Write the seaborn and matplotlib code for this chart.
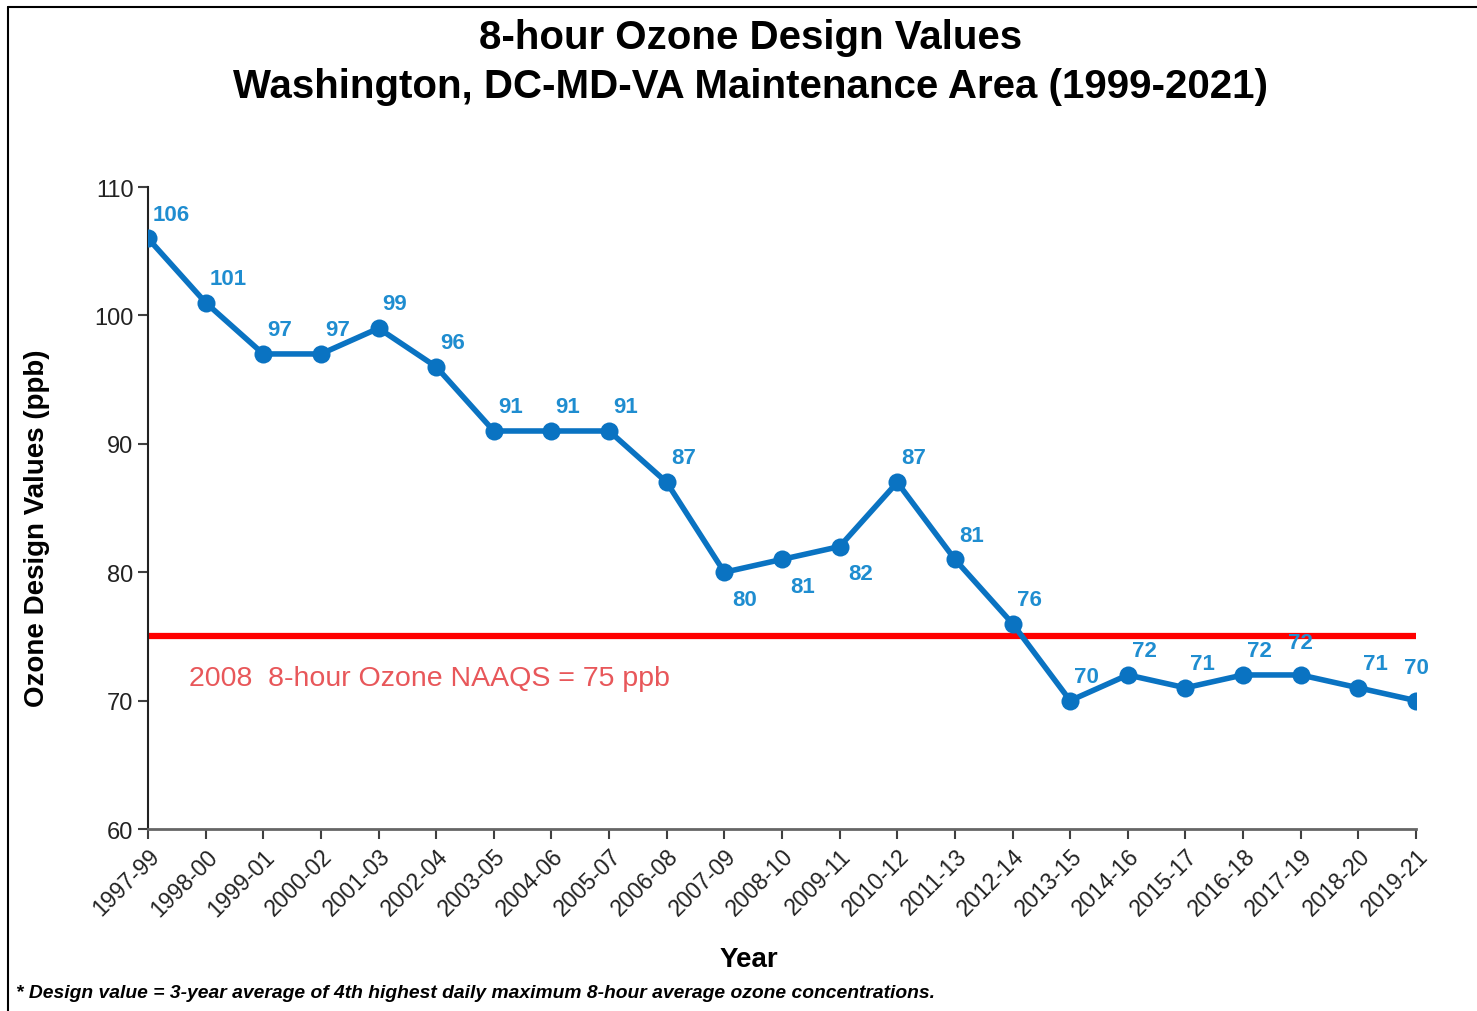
import matplotlib.pyplot as plt
import seaborn as sns
from matplotlib.lines import Line2D

years = ['1997-99', '1998-00', '1999-01', '2000-02', '2001-03', '2002-04', '2003-05',
         '2004-06', '2005-07', '2006-08', '2007-09', '2008-10', '2009-11', '2010-12',
         '2011-13', '2012-14', '2013-15', '2014-16', '2015-17', '2016-18', '2017-19',
         '2018-20', '2019-21']
design_values = [106, 101, 97, 97, 99, 96, 91, 91, 91, 87, 80, 81, 82, 87, 81, 76,
                 70, 72, 71, 72, 72, 71, 70]
naaqs = 75

sns.set_style('white')
plt.rcParams['font.family'] = ['Liberation Sans', 'DejaVu Sans']
plt.rcParams['text.color'] = 'black'
plt.rcParams['axes.labelcolor'] = 'black'

fig = plt.figure(figsize=(14.77, 10.12), dpi=100)
ax = fig.add_axes([0.1002, 0.1798, 0.8585, 0.6344])

ax.axhline(naaqs, color='#ff0000', lw=4.5, zorder=1)
sns.lineplot(x=list(range(len(years))), y=design_values, ax=ax, color='#0a73c2',
             lw=4, marker='o', markersize=13, markeredgewidth=0, zorder=3)

# labels: mostly above right, a few below or centred
below = {10, 11, 12}
centred = {20, 22}
for i, v in enumerate(design_values):
    if i in below:
        dx, dy, ha, va = 6, -12, 'left', 'top'
    elif i in centred:
        dx, dy, ha, va = 0, 16, 'center', 'bottom'
    else:
        dx, dy, ha, va = 3, 10, 'left', 'bottom'
    ax.annotate(str(v), (i, v), xytext=(dx, dy), textcoords='offset points',
                ha=ha, va=va, color='#1f8dd0', fontsize=16, fontweight='bold')

ax.text(0.72, 71.8, '2008  8-hour Ozone NAAQS = 75 ppb', color='#e8575a',
        fontsize=20.5, va='center', ha='left')

ax.set_xlim(0, len(years) - 1)
ax.set_ylim(60, 110)
ax.set_yticks(range(60, 111, 10))
ax.set_xticks(range(len(years)))
ax.set_xticklabels(years, rotation=45, ha='right', rotation_mode='anchor')
ax.tick_params(axis='both', labelsize=17, colors='#404040', length=7, width=1.5,
               direction='out', left=True, bottom=True)
ax.tick_params(axis='x', labelsize=16.5, pad=4)
for lbl in ax.get_xticklabels() + ax.get_yticklabels():
    lbl.set_color('#222222')
sns.despine(ax=ax)
ax.spines['left'].set_color('#222222')
ax.spines['bottom'].set_color('#666666')
ax.spines['left'].set_linewidth(1.5)
ax.spines['bottom'].set_linewidth(2)

ax.set_xlabel('Year', fontsize=20, fontweight='bold')
ax.set_ylabel('Ozone Design Values (ppb)', fontsize=20, fontweight='bold')
ax.xaxis.set_label_coords(0.474, -0.182)
ax.yaxis.set_label_coords(-0.077, 0.47)

fig.text(0.508, 0.962, '8-hour Ozone Design Values', ha='center', va='center',
         fontsize=29, fontweight='bold')
fig.text(0.508, 0.914, 'Washington, DC-MD-VA Maintenance Area (1999-2021)', ha='center',
         va='center', fontsize=29, fontweight='bold')
fig.text(0.011, 0.018, '* Design value = 3-year average of 4th highest daily maximum '
         '8-hour average ozone concentrations.', fontsize=13.9, fontweight='bold',
         style='italic', va='center')

# frame around the figure: top and left edges
fig.add_artist(Line2D([0.0055, 1.0], [0.992, 0.992], color='black', lw=1.5,
                      transform=fig.transFigure))
fig.add_artist(Line2D([0.0055, 0.0055], [0.0, 0.992], color='black', lw=1.5,
                      transform=fig.transFigure))

fig.savefig('out.png', dpi=100)
